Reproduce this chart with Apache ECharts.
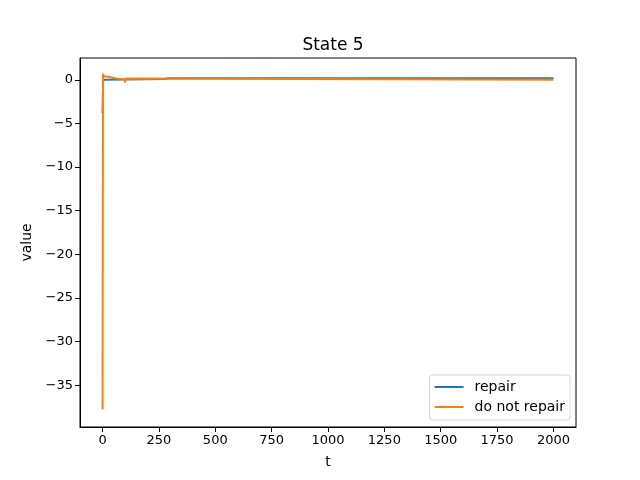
<!DOCTYPE html>
<html>
<head>
<meta charset="utf-8">
<script src="https://cdn.jsdelivr.net/npm/echarts@6/dist/echarts.min.js"></script>
<style>
  html, body { margin: 0; padding: 0; background: #fff; }
  #chart { width: 640px; height: 480px; }
</style>
</head>
<body>
<div id="chart"></div>
<script>
// key points: [t, value]
var repair = [[0, -3.8], [3, 0.0], [10, 0.08], [280, 0.1], [290, 0.18], [2000, 0.18]];
var doNotRepair = [[0, -37.8], [2, 0.7], [5, 0.4], [25, 0.35], [60, 0.15], [97, 0.05], [100, -0.3], [102, 0.15], [106, 0.0], [2000, 0.0]];
var xTicks = [0, 250, 500, 750, 1000, 1250, 1500, 1750, 2000];
var yTicks = [-35, -30, -25, -20, -15, -10, -5, 0];

var chart = echarts.init(document.getElementById('chart'));
var font = 'DejaVu Sans';

// matplotlib style tick text: no thousands separator, real minus sign
function tickText(v) {
  return String(v).replace('-', '\u2212');
}

chart.setOption({
  animation: false,
  textStyle: {fontFamily: font},
  title: {
    text: 'State 5',
    left: 328,
    top: 32,
    textAlign: 'center',
    textStyle: {fontFamily: font, fontWeight: 'normal', fontSize: 17, color: '#000'}
  },
  grid: {
    left: 80, right: 64, top: 58, bottom: 53,
    show: true, borderColor: '#000', borderWidth: 1
  },
  legend: {
    orient: 'vertical',
    right: 70,
    bottom: 60,
    itemWidth: 29,
    itemHeight: 2,
    itemGap: 6,
    padding: [5, 5, 6, 5],
    borderColor: '#d6d6d6',
    borderWidth: 1,
    borderRadius: 3,
    icon: 'rect',
    textStyle: {fontFamily: font, fontSize: 14, color: '#000', padding: [0, 0, 0, 6]},
    data: ['repair', 'do not repair']
  },
  xAxis: {
    type: 'value',
    min: -100,
    max: 2100,
    name: 't',
    nameLocation: 'middle',
    nameGap: 28,
    nameTextStyle: {fontFamily: font, fontSize: 14, color: '#000'},
    splitLine: {show: false},
    axisLine: {onZero: false, lineStyle: {color: '#000'}},
    axisTick: {customValues: xTicks, length: 5, lineStyle: {color: '#000'}},
    axisLabel: {customValues: xTicks, formatter: tickText, fontFamily: font, fontSize: 13, color: '#000', margin: 7}
  },
  yAxis: {
    type: 'value',
    min: -39.8,
    max: 2.5,
    name: 'value',
    nameLocation: 'middle',
    nameGap: 46,
    nameTextStyle: {fontFamily: font, fontSize: 14, color: '#000'},
    splitLine: {show: false},
    axisLine: {show: true, onZero: false, lineStyle: {color: '#000'}},
    axisTick: {show: true, customValues: yTicks, length: 5, lineStyle: {color: '#000'}},
    axisLabel: {customValues: yTicks, formatter: tickText, fontFamily: font, fontSize: 13, color: '#000', margin: 7}
  },
  series: [
    {
      name: 'repair',
      type: 'line',
      data: repair,
      showSymbol: false,
      color: '#1f77b4',
      lineStyle: {width: 2, color: '#1f77b4'}
    },
    {
      name: 'do not repair',
      type: 'line',
      data: doNotRepair,
      showSymbol: false,
      color: '#ff7f0e',
      lineStyle: {width: 2, color: '#ff7f0e'}
    }
  ]
});
</script>
</body>
</html>
